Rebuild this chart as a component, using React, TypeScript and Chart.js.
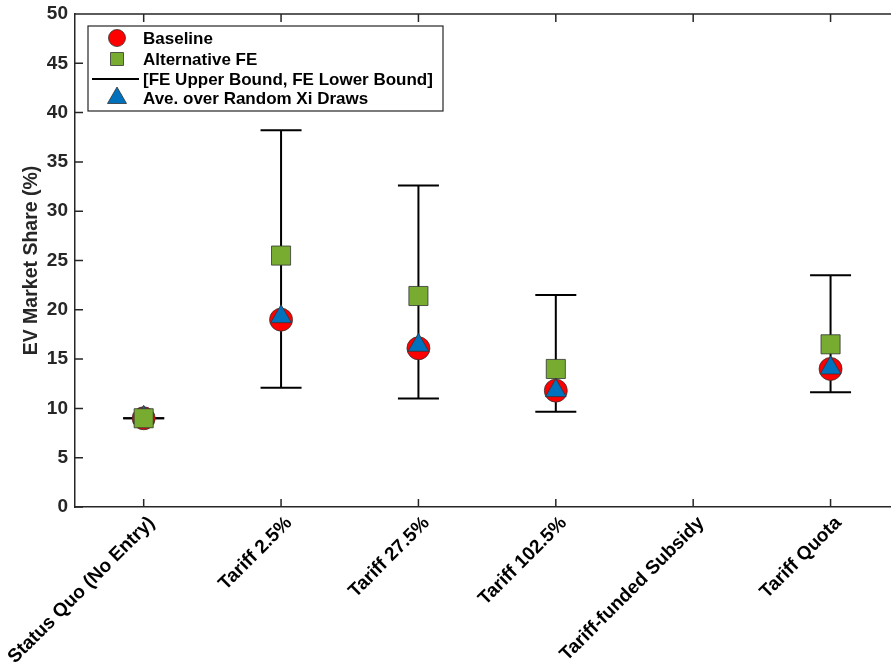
import React, { useEffect, useRef } from "react";
import { Chart, registerables } from "chart.js";

Chart.register(...registerables);

const categories = [
  "Status Quo (No Entry)",
  "Tariff 2.5%",
  "Tariff 27.5%",
  "Tariff 102.5%",
  "Tariff-funded Subsidy",
  "Tariff Quota",
];
const baseline: (number | null)[] = [9.0, 19.0, 16.1, 11.8, null, 14.0];
const alternativeFE: (number | null)[] = [9.0, 25.5, 21.4, 14.0, null, 16.5];
const feUpper: (number | null)[] = [9.0, 38.2, 32.6, 21.5, null, 23.5];
const feLower: (number | null)[] = [9.0, 12.1, 11.0, 9.65, null, 11.65];
const aveRandomXi: (number | null)[] = [9.1, 19.3, 16.4, 11.8, null, 14.1];
const yTicks = [0, 5, 10, 15, 20, 25, 30, 35, 40, 45, 50];
const seriesLabels = [
  "Baseline",
  "Alternative FE",
  "[FE Upper Bound, FE Lower Bound]",
  "Ave. over Random Xi Draws",
];

const FONT = "'Liberation Sans', Arial, Helvetica, sans-serif";
const AXIS = "#262626";
const RED = "#ff0000";
const GREEN = "#77ac30";
const BLUE = "#0072bd";

const toPoints = (arr: (number | null)[]) =>
  arr.map((v, i) => ({ x: i + 1, y: v }));

const errorBarPoints = () => {
  const pts: { x: number; y: number | null }[] = [];
  categories.forEach((_, i) => {
    if (feUpper[i] == null || feLower[i] == null) return;
    pts.push({ x: i + 1, y: feLower[i] });
    pts.push({ x: i + 1, y: feUpper[i] });
    pts.push({ x: i + 1, y: null });
  });
  return pts;
};

const framePlugin = {
  id: "matlabFrame",
  afterDatasetsDraw(chart: any) {
    const { ctx, chartArea } = chart;
    const xs = chart.scales.x;
    const ys = chart.scales.y;
    const tl = 8;
    ctx.save();
    ctx.strokeStyle = AXIS;
    ctx.lineWidth = 1.5;
    ctx.beginPath();
    ctx.moveTo(chartArea.left, chartArea.top);
    ctx.lineTo(chartArea.right, chartArea.top);
    xs.ticks.forEach((t: any) => {
      const px = xs.getPixelForValue(t.value);
      ctx.moveTo(px, chartArea.bottom);
      ctx.lineTo(px, chartArea.bottom - tl);
      ctx.moveTo(px, chartArea.top);
      ctx.lineTo(px, chartArea.top + tl);
    });
    ys.ticks.forEach((t: any) => {
      const py = ys.getPixelForValue(t.value);
      ctx.moveTo(chartArea.left, py);
      ctx.lineTo(chartArea.left + tl, py);
    });
    ctx.stroke();
    ctx.restore();
  },
};

const legendPlugin = {
  id: "matlabLegend",
  afterDraw(chart: any) {
    const { ctx } = chart;
    const bx = 88,
      by = 26,
      bw = 355,
      bh = 85;
    ctx.save();
    ctx.fillStyle = "#ffffff";
    ctx.fillRect(bx, by, bw, bh);
    ctx.strokeStyle = AXIS;
    ctx.lineWidth = 1.2;
    ctx.strokeRect(bx, by, bw, bh);
    const mx = 117;
    const rows = [38, 59, 79, 98];
    ctx.beginPath();
    ctx.arc(mx, rows[0], 8.5, 0, Math.PI * 2);
    ctx.fillStyle = RED;
    ctx.fill();
    ctx.lineWidth = 0.8;
    ctx.strokeStyle = "#333";
    ctx.stroke();
    ctx.beginPath();
    ctx.rect(mx - 6.5, rows[1] - 6.5, 13, 13);
    ctx.fillStyle = GREEN;
    ctx.fill();
    ctx.stroke();
    ctx.beginPath();
    ctx.moveTo(92, rows[2]);
    ctx.lineTo(139, rows[2]);
    ctx.strokeStyle = "#000";
    ctx.lineWidth = 2;
    ctx.stroke();
    const r = 11;
    ctx.beginPath();
    ctx.moveTo(mx, rows[3] - r);
    ctx.lineTo(mx + r * Math.sin((2 * Math.PI) / 3), rows[3] + r / 2);
    ctx.lineTo(mx - r * Math.sin((2 * Math.PI) / 3), rows[3] + r / 2);
    ctx.closePath();
    ctx.fillStyle = BLUE;
    ctx.fill();
    ctx.strokeStyle = "#333";
    ctx.lineWidth = 0.8;
    ctx.stroke();
    ctx.fillStyle = "#000";
    ctx.font = `bold 17px ${FONT}`;
    ctx.textBaseline = "middle";
    ctx.textAlign = "left";
    seriesLabels.forEach((s, i) => ctx.fillText(s, 143, rows[i] + 1));
    ctx.restore();
  },
};

export default function App() {
  const ref = useRef<HTMLCanvasElement>(null);
  useEffect(() => {
    if (!ref.current) return;
    const chart = new Chart(ref.current, {
      type: "scatter",
      data: {
        datasets: [
          {
            label: seriesLabels[0],
            data: toPoints(baseline),
            pointStyle: "circle",
            pointRadius: 11.5,
            pointBackgroundColor: RED,
            pointBorderColor: "#333",
            pointBorderWidth: 0.8,
            order: 3,
          },
          {
            label: seriesLabels[1],
            data: toPoints(alternativeFE),
            pointStyle: "rect",
            pointRadius: 13.5,
            pointBackgroundColor: GREEN,
            pointBorderColor: "#333",
            pointBorderWidth: 0.8,
            order: 1,
          },
          {
            label: seriesLabels[2],
            data: errorBarPoints(),
            showLine: true,
            borderColor: "#000",
            borderWidth: 2,
            pointStyle: "line",
            pointRadius: 20.5,
            pointBorderColor: "#000",
            pointBorderWidth: 2,
            spanGaps: false,
            order: 4,
          } as any,
          {
            label: seriesLabels[3],
            data: toPoints(aveRandomXi),
            pointStyle: "triangle",
            pointRadius: 12,
            pointBackgroundColor: BLUE,
            pointBorderColor: "#333",
            pointBorderWidth: 0.8,
            order: 2,
          },
        ],
      },
      options: {
        animation: false,
        responsive: false,
        layout: { autoPadding: false, padding: { top: 14, right: 0, left: 0, bottom: 0 } },
        plugins: {
          legend: { display: false },
          tooltip: { enabled: false },
        },
        scales: {
          x: {
            type: "linear",
            min: 0.5,
            max: 6.44,
            afterBuildTicks: (scale: any) => {
              scale.ticks = categories.map((_, i) => ({ value: i + 1 }));
            },
            afterFit: (scale: any) => {
              scale.paddingLeft = 0;
              scale.paddingRight = 0;
              scale.paddingTop = 0;
              scale.paddingBottom = 0;
              scale.height = 159;
            },
            grid: { display: false, drawTicks: false },
            border: { display: true, color: AXIS, width: 1.5 },
            ticks: {
              autoSkip: false,
              maxRotation: 45,
              minRotation: 45,
              padding: 5,
              labelOffset: 8,
              color: "#000",
              font: { family: FONT, size: 19, weight: "bold" },
              callback: (v: any) => categories[Number(v) - 1] ?? "",
            },
          },
          y: {
            min: 0,
            max: 50,
            afterBuildTicks: (scale: any) => {
              scale.ticks = yTicks.map((v) => ({ value: v }));
            },
            afterFit: (scale: any) => {
              scale.paddingLeft = 0;
              scale.paddingRight = 0;
              scale.paddingTop = 0;
              scale.paddingBottom = 0;
              scale.width = 75;
            },
            grid: { display: false, drawTicks: false },
            border: { display: true, color: AXIS, width: 1.5 },
            ticks: {
              padding: 7,
              color: "#262626",
              font: { family: FONT, size: 19, weight: "bold" },
            },
            title: {
              display: true,
              text: "EV Market Share (%)",
              color: "#262626",
              padding: { top: 20, bottom: 0 },
              font: { family: FONT, size: 19.5, weight: "bold" },
            },
          },
        },
      },
      plugins: [framePlugin, legendPlugin],
    });
    return () => chart.destroy();
  }, []);
  return (
    <div style={{ position: "fixed", left: 0, top: 0, width: 891, height: 666, background: "#fff" }}>
      <canvas ref={ref} width={891} height={666} style={{ display: "block" }} />
    </div>
  );
}
